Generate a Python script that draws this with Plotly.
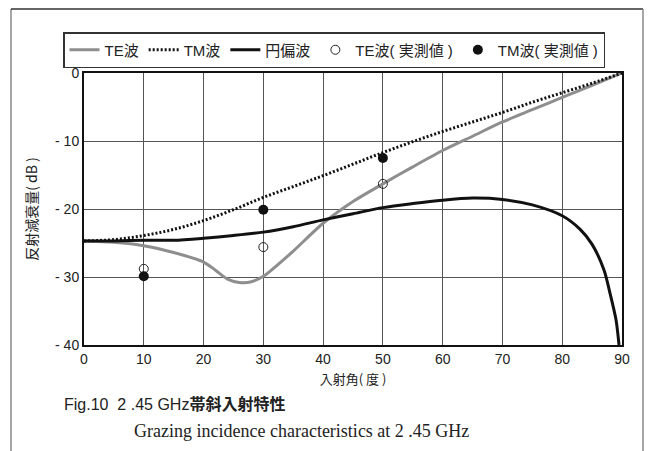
import plotly.graph_objects as go

# ---- data ----
te_angle = [0, 5, 10, 15, 20, 22, 24, 26, 28, 30, 32, 35, 40, 45, 50, 55, 60, 65, 70, 75, 80, 85, 90]
te_db = [-24.7, -24.9, -25.4, -26.4, -27.8, -29.0, -30.3, -30.8, -30.7, -29.9, -28.5, -26.2, -22.1,
         -18.9, -16.3, -13.8, -11.4, -9.3, -7.2, -5.4, -3.6, -1.8, 0.0]

tm_angle = [0, 5, 10, 15, 20, 25, 30, 35, 40, 45, 50, 55, 60, 65, 70, 75, 80, 85, 90]
tm_db = [-24.7, -24.5, -23.9, -23.0, -21.7, -20.1, -18.3, -16.7, -15.1, -13.4, -11.7,
         -10.1, -8.6, -7.2, -5.8, -4.3, -2.9, -1.5, 0.0]

cp_angle = [0, 5, 10, 15, 20, 25, 30, 35, 40, 45, 50, 55, 60, 65, 70, 75, 80, 83, 85, 87, 88, 89, 89.5]
cp_db = [-24.7, -24.7, -24.6, -24.6, -24.3, -23.9, -23.4, -22.6, -21.6, -20.7, -19.8, -19.2,
         -18.7, -18.4, -18.6, -19.4, -21.0, -23.0, -25.2, -29.0, -32.4, -36.3, -40.0]

meas_angle = [10, 30, 50]
te_meas = [-28.8, -25.6, -16.3]
tm_meas = [-29.9, -20.1, -12.5]

x_ticks = [0, 10, 20, 30, 40, 50, 60, 70, 80, 90]
y_ticks = [0, -10, -20, -30, -40]
y_ticktext = ["0", "- 10", "- 20", "- 30", "- 40"]

FONT = "Liberation Sans, Arial, Noto Sans CJK JP, sans-serif"
CJK = "Noto Sans CJK JP, Liberation Sans, sans-serif"

fig = go.Figure()
fig.add_trace(go.Scatter(x=te_angle, y=te_db, mode="lines", name="TE波",
                         line=dict(color="#8e8e8e", width=3, shape="spline", smoothing=0.8)))
fig.add_trace(go.Scatter(x=tm_angle, y=tm_db, mode="lines", name="TM波",
                         line=dict(color="#111111", width=3, dash="2px,2px", shape="spline")))
fig.add_trace(go.Scatter(x=cp_angle, y=cp_db, mode="lines", name="円偏波",
                         line=dict(color="#111111", width=3, shape="spline", smoothing=0.8)))
fig.add_trace(go.Scatter(x=meas_angle, y=te_meas, mode="markers", name="TE波( 実測値 )",
                         marker=dict(symbol="circle-open", size=9, color="#222222",
                                     line=dict(width=1))))
fig.add_trace(go.Scatter(x=meas_angle, y=tm_meas, mode="markers", name="TM波( 実測値 )",
                         marker=dict(symbol="circle", size=10, color="#111111")))

# plot area: x 84..622, y 73..345
W, H = 649, 451
L, R, T, B = 84, 622, 73, 345
pw, ph = R - L, B - T

def px(x):
    return (x - L) / pw

def py(y):
    return (B - y) / ph

fig.update_layout(
    width=W, height=H,
    margin=dict(l=L, r=W - R, t=T, b=H - B, autoexpand=False),
    paper_bgcolor="white", plot_bgcolor="white",
    font=dict(family=FONT, size=13, color="#222222"),
    showlegend=True,
    legend=dict(orientation="h", x=px(63), y=py(32), xanchor="left", yanchor="top",
                bordercolor="#333333", borderwidth=1.5, bgcolor="white",
                itemwidth=30, font=dict(family=FONT, size=15),
                tracegroupgap=0),
    xaxis=dict(range=[0, 90], tickvals=x_ticks, showgrid=True, gridcolor="#555555",
               gridwidth=1, zeroline=False, showline=True, linecolor="#111111",
               linewidth=2, mirror=True, ticks="", tickfont=dict(size=14), automargin=False,
               title=dict(text="入射角( 度 )", font=dict(family=CJK, size=13, color="#222222"),
                          standoff=9)),
    yaxis=dict(range=[-40, 0], tickvals=y_ticks, ticktext=y_ticktext, showgrid=True,
               gridcolor="#555555", gridwidth=1, zeroline=False, showline=True,
               linecolor="#111111", linewidth=2, mirror=True, ticks="", automargin=False,
               tickfont=dict(size=14),
               title=dict(text="反射減衰量( dB )", font=dict(family=CJK, size=14, color="#222222"),
                          standoff=14)),
)

# outer page frame
fig.add_shape(type="line", xref="paper", yref="paper", x0=px(11), x1=px(11), y0=py(9), y1=py(451),
              line=dict(color="#888888", width=1.5))
fig.add_shape(type="line", xref="paper", yref="paper", x0=px(11), x1=px(643), y0=py(9), y1=py(9),
              line=dict(color="#333333", width=1.5))
fig.add_shape(type="line", xref="paper", yref="paper", x0=px(643), x1=px(643), y0=py(9), y1=py(451),
              line=dict(color="#888888", width=1.5))

fig.add_annotation(xref="paper", yref="paper", x=px(62), y=py(404), xanchor="left", yanchor="middle",
                   text="Fig.10  2 .45 GHz<b>帯斜入射特性</b>", showarrow=False,
                   font=dict(family=FONT, size=16, color="#222222"))
fig.add_annotation(xref="paper", yref="paper", x=px(132), y=py(431), xanchor="left", yanchor="middle",
                   text="Grazing incidence characteristics at 2 .45 GHz", showarrow=False,
                   font=dict(family="Liberation Serif, serif", size=18, color="#222222"))

fig.write_html("out.html", config={"displayModeBar": False},
               post_script="document.body.style.margin='0px';document.body.style.padding='0px';")
